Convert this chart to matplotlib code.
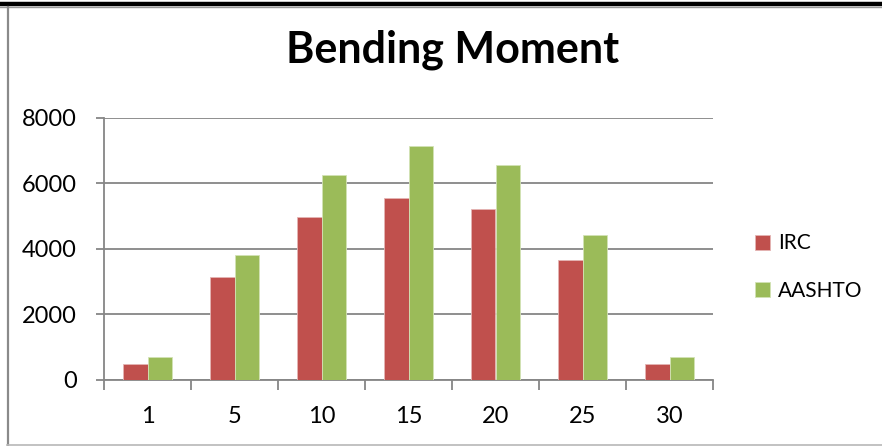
import matplotlib
matplotlib.use('Agg')
import matplotlib.pyplot as plt
from matplotlib.lines import Line2D
import numpy as np

# span lengths and bending moments
spans = ['1', '5', '10', '15', '20', '25', '30']
irc = [480, 3150, 4970, 5540, 5210, 3650, 480]
aashto = [700, 3810, 6270, 7140, 6570, 4420, 700]

plt.rcParams['font.family'] = ['Lato', 'DejaVu Sans']

W, H = 882, 446
fig = plt.figure(figsize=(W / 100, H / 100), dpi=100)

# plot area in pixels
x0, x1, ytop, ybot = 104, 713, 118, 379.5
ax = fig.add_axes([x0 / W, 1 - ybot / H, (x1 - x0) / W, (ybot - ytop) / H])

gray = '#868686'
n = len(spans)
pos = np.arange(n) + 0.5
bw = 1 / 3.5

ax.bar(pos - bw / 2, irc, width=bw, color='#C0504D', edgecolor='#E4B5B4',
       linewidth=0.6, label='IRC', zorder=3)
ax.bar(pos + bw / 2, aashto, width=bw, color='#9BBB59', edgecolor='#D3E3B5',
       linewidth=0.6, label='AASHTO', zorder=3)

ax.set_xlim(0, n)
ax.set_ylim(0, 8000)
ax.set_yticks([0, 2000, 4000, 6000, 8000])
ax.set_xticks(pos)
ax.set_xticklabels(spans)
ax.set_xticks(np.arange(n + 1), minor=True)

ax.grid(axis='y', color=gray, linewidth=1.3, zorder=0)
for s in ['top', 'right']:
    ax.spines[s].set_visible(False)
for s in ['left', 'bottom']:
    ax.spines[s].set_color(gray)
    ax.spines[s].set_linewidth(1.3)

ax.tick_params(axis='x', which='major', length=0, pad=19, labelsize=17)
ax.tick_params(axis='x', which='minor', length=7, width=1.3, color=gray, direction='out')
ax.tick_params(axis='y', length=6, width=1.3, color=gray, pad=13.5, labelsize=17)

fig.text(453 / W, 1 - 63 / H, 'Bending Moment', ha='center', va='baseline',
         fontsize=31, fontweight='bold')

leg = fig.legend(loc='center left', bbox_to_anchor=(747 / W, 1 - 267 / H),
                 borderaxespad=0, frameon=False, fontsize=15,
                 handlelength=0.72, handleheight=0.72,
                 handletextpad=0.35, labelspacing=1.3)

# outer frame
fig.add_artist(Line2D([0, 1], [1 - 4 / H, 1 - 4 / H], color='black', linewidth=3.2))
fig.add_artist(Line2D([0, 1], [1 - 6.8 / H, 1 - 6.8 / H], color='#9a9a9a', linewidth=1.0))
fig.add_artist(Line2D([7.5 / W, 7.5 / W], [1 - 7 / H, 1 - 445 / H], color='#8a8a8a', linewidth=1.6))
fig.add_artist(Line2D([7 / W, 1], [1 - 445 / H, 1 - 445 / H], color='#b8b8b8', linewidth=1.2))

fig.savefig('out.png', dpi=100)
